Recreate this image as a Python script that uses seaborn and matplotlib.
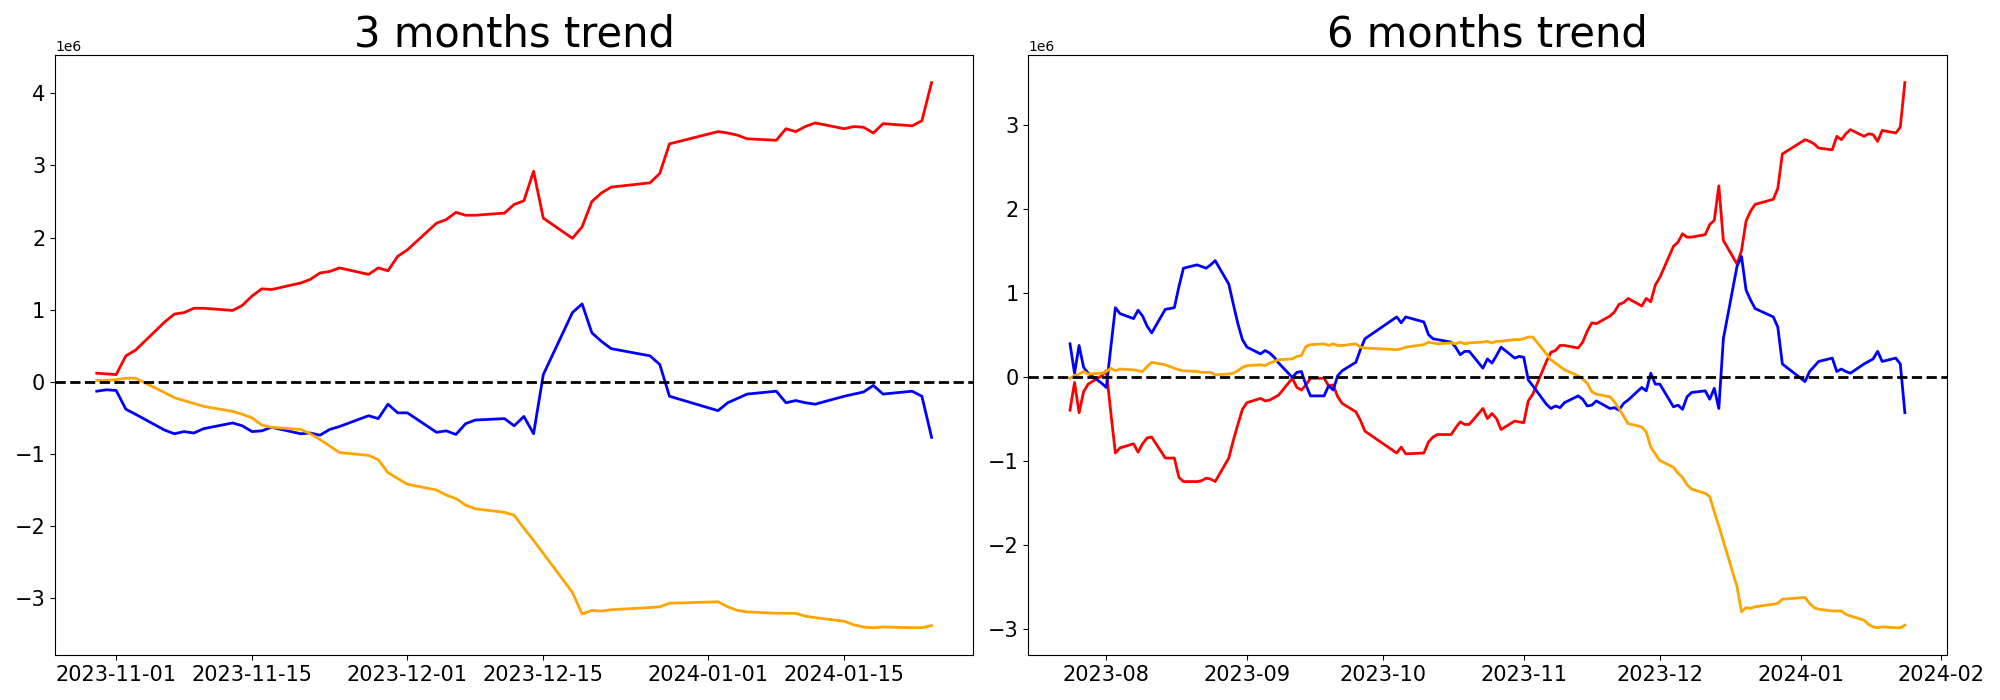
import numpy as np
import pandas as pd
import matplotlib
matplotlib.use("Agg")
import matplotlib.pyplot as plt
import seaborn as sns

# Korean market holidays (no trading) inside the period
holidays = ["2023-08-15", "2023-09-28", "2023-09-29", "2023-10-02", "2023-10-03",
            "2023-10-09", "2023-12-25", "2023-12-29", "2024-01-01"]
dates_3m = pd.bdate_range("2023-10-30", "2024-01-24", freq="C", holidays=holidays)
dates_6m = pd.bdate_range("2023-07-24", "2024-01-24", freq="C", holidays=holidays)

# ---------------- 3 months trend (values in millions) ----------------
red_3m = [0.12, 0.11,
          0.10, 0.36, 0.44, 0.83, 0.94, 0.96, 1.02, 1.02, 0.99, 1.06, 1.19, 1.29, 1.28,
          1.37, 1.42, 1.51, 1.53, 1.58, 1.49, 1.58, 1.54, 1.74,
          1.83, 2.20, 2.25, 2.35, 2.31, 2.31, 2.34, 2.46, 2.51, 2.92, 2.27, 1.99, 2.15,
          2.50, 2.62, 2.70, 2.76, 2.89, 3.30,
          3.47, 3.45, 3.42, 3.37, 3.35, 3.51, 3.47, 3.54, 3.59, 3.51, 3.54, 3.53, 3.45,
          3.58, 3.55, 3.62, 4.15]
blue_3m = [-0.13, -0.11,
           -0.12, -0.38, -0.45, -0.67, -0.72, -0.69, -0.71, -0.65, -0.57, -0.61, -0.69, -0.68,
           -0.63, -0.72, -0.71, -0.74, -0.66, -0.62, -0.47, -0.51, -0.31, -0.43,
           -0.43, -0.70, -0.68, -0.73, -0.58, -0.53, -0.51, -0.61, -0.48, -0.72, 0.10, 0.96,
           1.08, 0.68, 0.56, 0.46, 0.36, 0.24, -0.20,
           -0.40, -0.29, -0.23, -0.17, -0.13, -0.29, -0.26, -0.29, -0.31, -0.20, -0.17, -0.14,
           -0.05, -0.17, -0.13, -0.20, -0.77]
orange_3m = [0.02, 0.02,
             0.03, 0.05, 0.05, -0.15, -0.22, -0.26, -0.30, -0.34, -0.41, -0.45, -0.50, -0.60,
             -0.63, -0.66, -0.72, -0.80, -0.89, -0.98, -1.02, -1.08, -1.26, -1.34,
             -1.42, -1.50, -1.57, -1.62, -1.71, -1.76, -1.81, -1.85, -2.03, -2.20, -2.38, -2.92,
             -3.22, -3.17, -3.18, -3.16, -3.13, -3.12, -3.07,
             -3.05, -3.12, -3.17, -3.19, -3.21, -3.21, -3.21, -3.25, -3.27, -3.32, -3.37, -3.40,
             -3.41, -3.40, -3.41, -3.41, -3.38]

# ---------------- 6 months trend (values in millions) ----------------
red_6m = [
    # Jul
    -0.39, -0.06, -0.42, -0.17, -0.08, 0.02,
    # Aug
    0.08, -0.42, -0.90, -0.84, -0.79, -0.89, -0.79, -0.72, -0.71, -0.96, -0.96, -1.19,
    -1.24, -1.24, -1.23, -1.20, -1.21, -1.24, -0.96, -0.75, -0.56, -0.38,
    # Sep
    -0.30, -0.25, -0.28, -0.27, -0.24, -0.21, -0.01, -0.12, -0.15, -0.09, -0.01, -0.01,
    -0.10, -0.09, -0.23, -0.31, -0.41, -0.51, -0.64,
    # Oct
    -0.90, -0.83, -0.91, -0.90, -0.77, -0.71, -0.68, -0.68, -0.60, -0.53, -0.56, -0.56,
    -0.37, -0.49, -0.43, -0.49, -0.62, -0.52, -0.53,
    # Nov
    -0.54, -0.28, -0.20, 0.19, 0.30, 0.32, 0.38, 0.38, 0.35, 0.42, 0.55, 0.65, 0.64,
    0.73, 0.78, 0.87, 0.89, 0.94, 0.85, 0.94, 0.90, 1.10,
    # Dec
    1.19, 1.56, 1.61, 1.71, 1.67, 1.67, 1.70, 1.82, 1.87, 2.28, 1.63, 1.35, 1.51,
    1.86, 1.98, 2.06, 2.12, 2.25, 2.66,
    # Jan
    2.83, 2.81, 2.78, 2.73, 2.71, 2.87, 2.83, 2.90, 2.95, 2.87, 2.90, 2.89, 2.81,
    2.94, 2.91, 2.98, 3.51]
blue_6m = [
    0.40, 0.05, 0.38, 0.12, 0.05, -0.07,
    -0.12, 0.36, 0.83, 0.76, 0.70, 0.80, 0.73, 0.61, 0.53, 0.81, 0.83, 1.08,
    1.30, 1.34, 1.32, 1.30, 1.34, 1.39, 1.11, 0.87, 0.64, 0.45,
    0.36, 0.28, 0.32, 0.29, 0.24, 0.17, 0.00, 0.06, 0.07, -0.09, -0.22, -0.22,
    -0.10, -0.15, 0.02, 0.08, 0.18, 0.33, 0.46,
    0.72, 0.65, 0.72, 0.66, 0.51, 0.46, 0.45, 0.42, 0.36, 0.27, 0.31, 0.31,
    0.11, 0.22, 0.17, 0.26, 0.36, 0.23, 0.25,
    0.24, -0.03, -0.10, -0.32, -0.37, -0.34, -0.36, -0.30, -0.22, -0.26, -0.34, -0.33,
    -0.28, -0.37, -0.36, -0.39, -0.31, -0.27, -0.12, -0.16, 0.05, -0.08,
    -0.08, -0.35, -0.33, -0.38, -0.23, -0.18, -0.16, -0.26, -0.13, -0.37, 0.46, 1.32,
    1.44, 1.04, 0.92, 0.82, 0.72, 0.60, 0.16,
    -0.05, 0.07, 0.13, 0.19, 0.23, 0.07, 0.10, 0.07, 0.05, 0.16, 0.19, 0.22,
    0.31, 0.19, 0.23, 0.16, -0.42]
orange_6m = [
    -0.01, 0.02, 0.04, 0.07, 0.04, 0.05,
    0.07, 0.11, 0.08, 0.10, 0.09, 0.08, 0.07, 0.13, 0.18, 0.15, 0.11, 0.09,
    0.08, 0.07, 0.06, 0.06, 0.06, 0.03, 0.04, 0.05, 0.08, 0.12,
    0.14, 0.15, 0.14, 0.17, 0.19, 0.21, 0.22, 0.25, 0.26, 0.37, 0.39, 0.40,
    0.38, 0.40, 0.38, 0.38, 0.40, 0.36, 0.35,
    0.33, 0.34, 0.36, 0.39, 0.42, 0.41, 0.40, 0.41, 0.40, 0.42, 0.40, 0.41,
    0.42, 0.43, 0.41, 0.43, 0.43, 0.45, 0.45,
    0.46, 0.48, 0.48, 0.28, 0.21, 0.17, 0.13, 0.09, 0.02, -0.02, -0.07, -0.17,
    -0.20, -0.23, -0.29, -0.37, -0.46, -0.55, -0.59, -0.65, -0.83, -0.91,
    -0.99, -1.07, -1.14, -1.19, -1.28, -1.33, -1.38, -1.42, -1.60, -1.77, -1.95, -2.49,
    -2.79, -2.74, -2.75, -2.73, -2.70, -2.69, -2.64,
    -2.62, -2.69, -2.74, -2.76, -2.78, -2.78, -2.78, -2.82, -2.84, -2.89, -2.94, -2.97,
    -2.98, -2.97, -2.98, -2.98, -2.95]

titles = ["3 months trend", "6 months trend"]
panels = [
    (dates_3m, red_3m, blue_3m, orange_3m),
    (dates_6m, red_6m, blue_6m, orange_6m),
]

fig, axes = plt.subplots(1, 2, figsize=(20, 7), dpi=100)
for ax, title, (dates, r, b, o) in zip(axes, titles, panels):
    df = pd.DataFrame({"date": dates,
                       "red": np.array(r) * 1e6,
                       "blue": np.array(b) * 1e6,
                       "orange": np.array(o) * 1e6})
    for col in ["red", "blue", "orange"]:
        sns.lineplot(data=df, x="date", y=col, color=col, ax=ax, linewidth=2, legend=False)
    ax.axhline(0, color="black", linestyle="--", linewidth=2)
    ax.set_title(title, fontsize=30)
    ax.tick_params(labelsize=15)
    ax.set_xlabel("")
    ax.set_ylabel("")

fig.subplots_adjust(left=0.0275, right=0.9733, bottom=0.0643, top=0.921, wspace=0.0598)
fig.savefig("out.png", dpi=100)
